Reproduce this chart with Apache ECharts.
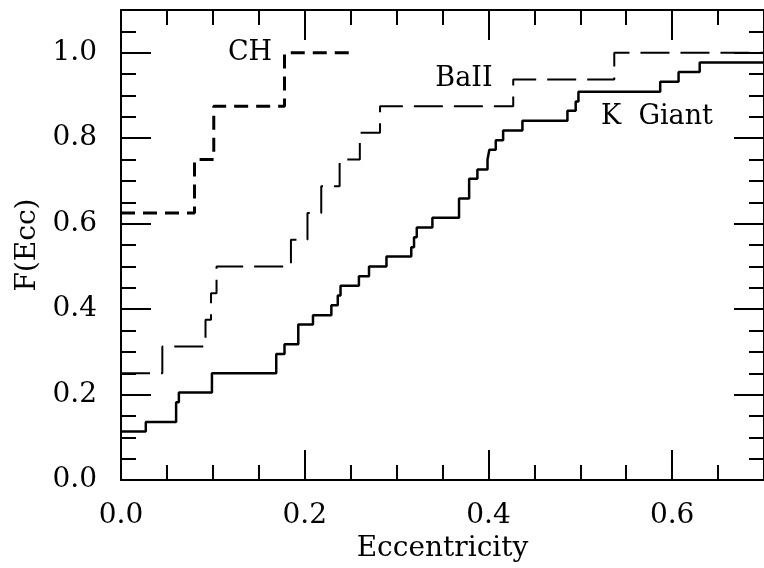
<!DOCTYPE html>
<html>
<head>
<meta charset="utf-8">
<script src="https://cdn.jsdelivr.net/npm/echarts@6/dist/echarts.min.js"></script>
<style>
    body { margin: 0; background: #fff; }
    #chartDiv { width: 764px; height: 568px; }
</style>
</head>
<body>
<div id="chartDiv"></div>
<script>
// cumulative distributions: step at x, new F value
const chX = [0, 0.080, 0.101, 0.178, 0.250];
const chF = [0.625, 0.75, 0.875, 1.0, 1.0];

const baX = [0, 0.045, 0.092, 0.098, 0.104, 0.185, 0.203, 0.218, 0.238, 0.260, 0.282, 0.427, 0.537, 0.70];
const baF = [0.25, 0.3125, 0.375, 0.4375, 0.5, 0.5625, 0.625, 0.6875, 0.75, 0.8125, 0.875, 0.9375, 1.0, 1.0];

const kX = [0, 0.027, 0.060, 0.063, 0.099, 0.169, 0.178, 0.193, 0.209, 0.229,
    0.236, 0.239, 0.259, 0.270, 0.289, 0.316, 0.319, 0.322, 0.339, 0.368,
    0.379, 0.388, 0.399, 0.401, 0.408, 0.416, 0.437, 0.486, 0.495, 0.498,
    0.587, 0.607, 0.630, 0.70];
const kF = [0.114, 0.136, 0.182, 0.205, 0.250, 0.295, 0.318, 0.364, 0.386, 0.409,
    0.432, 0.455, 0.477, 0.500, 0.523, 0.545, 0.568, 0.591, 0.614, 0.659,
    0.705, 0.727, 0.750, 0.773, 0.795, 0.818, 0.841, 0.864, 0.886, 0.909,
    0.932, 0.955, 0.977, 0.977];

const labels = [
    { text: "CH", x: 250, y: 53 },
    { text: "BaII", x: 464, y: 79 },
    { text: "K  Giant", x: 657, y: 117 },
];

const font = "DejaVu Serif";
let chart = echarts.init(document.getElementById("chartDiv"));

function pairs(xs, ys) {
    return xs.map((x, i) => [x, ys[i]]);
}

function xAxisOf(pos, interval, len, main) {
    return {
        type: "value",
        position: pos,
        min: 0,
        max: 0.7,
        interval: interval,
        name: main && pos === "bottom" ? "Eccentricity" : "",
        nameLocation: "middle",
        nameGap: 50,
        nameTextStyle: { fontFamily: font, fontSize: 28, color: "#000" },
        axisLine: { show: main, onZero: false, lineStyle: { color: "#000", width: 2 } },
        axisTick: { show: true, inside: true, length: len, lineStyle: { color: "#000", width: 2 } },
        axisLabel: {
            show: main && pos === "bottom",
            showMaxLabel: false,
            margin: 22,
            fontFamily: font,
            fontSize: 28,
            color: "#000",
            formatter: (v) => v.toFixed(1),
        },
        splitLine: { show: false },
    };
}

function yAxisOf(pos, interval, len, main) {
    return {
        type: "value",
        position: pos,
        min: 0,
        max: 1.1,
        interval: interval,
        name: main && pos === "left" ? "F(Ecc)" : "",
        nameLocation: "middle",
        nameGap: 76,
        nameTextStyle: { fontFamily: font, fontSize: 28, color: "#000" },
        axisLine: { show: main, onZero: false, lineStyle: { color: "#000", width: 2 } },
        axisTick: { show: true, inside: true, length: len, lineStyle: { color: "#000", width: 2 } },
        axisLabel: {
            show: main && pos === "left",
            showMaxLabel: false,
            margin: 24,
            fontFamily: font,
            fontSize: 28,
            color: "#000",
            formatter: (v) => v.toFixed(1),
        },
        splitLine: { show: false },
    };
}

function stepSeries(name, xs, ys, width, dash) {
    return {
        name: name,
        type: "line",
        step: "end",
        xAxisIndex: 0,
        yAxisIndex: 0,
        symbol: "none",
        data: pairs(xs, ys),
        lineStyle: { color: "#000", width: width, type: dash },
    };
}

let options = {
    animation: false,
    grid: { left: 121, right: -7, top: 10, bottom: 86 },
    xAxis: [
        xAxisOf("bottom", 0.2, 30, true),
        xAxisOf("bottom", 0.05, 15, false),
        xAxisOf("top", 0.2, 30, true),
        xAxisOf("top", 0.05, 15, false),
    ],
    yAxis: [
        yAxisOf("left", 0.2, 30, true),
        yAxisOf("left", 0.05, 15, false),
        yAxisOf("right", 0.2, 30, true),
        yAxisOf("right", 0.05, 15, false),
    ],
    graphic: labels.map((l) => ({
        type: "text",
        x: l.x,
        y: l.y,
        style: {
            text: l.text,
            fontFamily: font,
            fontSize: 27,
            fill: "#000",
            align: "center",
            verticalAlign: "middle",
        },
    })),
    series: [
        stepSeries("CH", chX, chF, 3, [14, 8]),
        stepSeries("BaII", baX, baF, 2, [29, 11]),
        stepSeries("K Giant", kX, kF, 2.5, "solid"),
    ],
};
chart.setOption(options);
</script>
</body>
</html>
